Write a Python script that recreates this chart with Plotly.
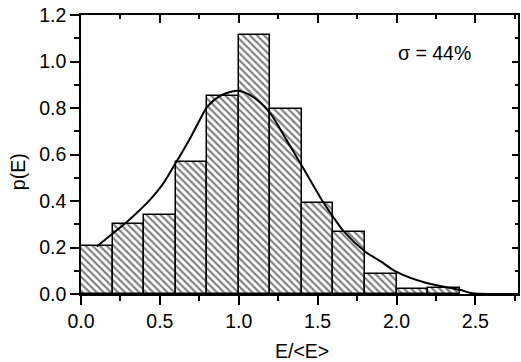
import plotly.graph_objects as go

# Histogram data (bin left edges, width 0.2)
bin_left = [0.0, 0.2, 0.4, 0.6, 0.8, 1.0, 1.2, 1.4, 1.6, 1.8, 2.0, 2.2]
bin_width = 0.2
p_values = [0.205, 0.303, 0.340, 0.567, 0.850, 1.114, 0.794, 0.390, 0.266, 0.084, 0.023, 0.024]

# Fitted curve
curve_x = [0.10, 0.205, 0.31, 0.437, 0.521, 0.60, 0.69, 0.75, 0.80, 0.88, 0.99, 1.09, 1.20, 1.30,
           1.397, 1.54, 1.60, 1.67, 1.80, 1.90, 2.00, 2.19, 2.40, 2.48, 2.60, 2.78]
curve_y = [0.204, 0.262, 0.322, 0.405, 0.475, 0.563, 0.668, 0.745, 0.805, 0.851, 0.874, 0.848, 0.777, 0.665,
           0.555, 0.39, 0.33, 0.266, 0.183, 0.14, 0.095, 0.047, 0.018, 0.003, 0.0, 0.0]

x_range = [0, 2.77]
y_range = [0, 1.2]
FONT = "Liberation Sans, Arial, sans-serif"
FS = 19.5

bin_centers = [b + bin_width / 2 for b in bin_left]

fig = go.Figure()
fig.add_trace(go.Bar(
    x=bin_centers, y=p_values, width=[bin_width] * len(bin_left),
    marker=dict(color="white", line=dict(color="black", width=1.5),
                pattern=dict(shape="\\", fgcolor="black", bgcolor="white", size=5, solidity=0.42)),
    showlegend=False, hoverinfo="skip"))
fig.add_trace(go.Scatter(
    x=curve_x, y=curve_y, mode="lines",
    line=dict(color="black", width=2, shape="spline", smoothing=0.8),
    showlegend=False, hoverinfo="skip"))
# dummy trace to activate mirror axes
fig.add_trace(go.Scatter(x=[0], y=[0], xaxis="x2", yaxis="y2", mode="markers",
                         marker=dict(opacity=0), showlegend=False, hoverinfo="skip"))

axis_common = dict(showgrid=False, zeroline=False, showline=True, linecolor="black",
                   linewidth=1.5, tickcolor="black", tickwidth=1.5,
                   tickfont=dict(family=FONT, size=FS, color="black"))

fig.update_layout(
    width=521, height=362,
    margin=dict(l=81, r=3, t=15, b=68),
    paper_bgcolor="white", plot_bgcolor="white",
    bargap=0,
    xaxis=dict(range=x_range, ticks="outside", ticklen=9, dtick=0.5, tick0=0, tickformat=".1f",
               minor=dict(ticks="outside", ticklen=5, dtick=0.25, tick0=0, tickcolor="black", tickwidth=1.5),
               **axis_common),
    yaxis=dict(range=y_range, ticks="outside", ticklen=9, dtick=0.2, tick0=0, tickformat=".1f",
               minor=dict(ticks="outside", ticklen=5, dtick=0.1, tick0=0, tickcolor="black", tickwidth=1.5),
               **axis_common),
    xaxis2=dict(range=x_range, overlaying="x", side="top", ticks="inside", ticklen=8, dtick=0.5, tick0=0,
                showticklabels=False,
                minor=dict(ticks="inside", ticklen=4, dtick=0.25, tick0=0, tickcolor="black", tickwidth=1.5),
                **axis_common),
    yaxis2=dict(range=y_range, overlaying="y", side="right", ticks="inside", ticklen=6, dtick=0.2, tick0=0,
                showticklabels=False,
                minor=dict(ticks="inside", ticklen=3, dtick=0.1, tick0=0, tickcolor="black", tickwidth=1.5),
                **axis_common),
    annotations=[
        dict(text="p(E)", xref="paper", yref="paper", x=-0.144, y=0.437, textangle=-90,
             showarrow=False, xanchor="center", yanchor="middle",
             font=dict(family=FONT, size=FS, color="black")),
        dict(text="E/&lt;E&gt;", xref="paper", yref="paper", x=0.505, y=-0.206,
             showarrow=False, xanchor="center", yanchor="middle",
             font=dict(family=FONT, size=FS, color="black")),
        dict(text="σ = 44%", xref="paper", yref="paper", x=0.81, y=0.864,
             showarrow=False, xanchor="center", yanchor="middle",
             font=dict(family=FONT, size=FS, color="black")),
    ],
)

fig.write_html("out.html")
